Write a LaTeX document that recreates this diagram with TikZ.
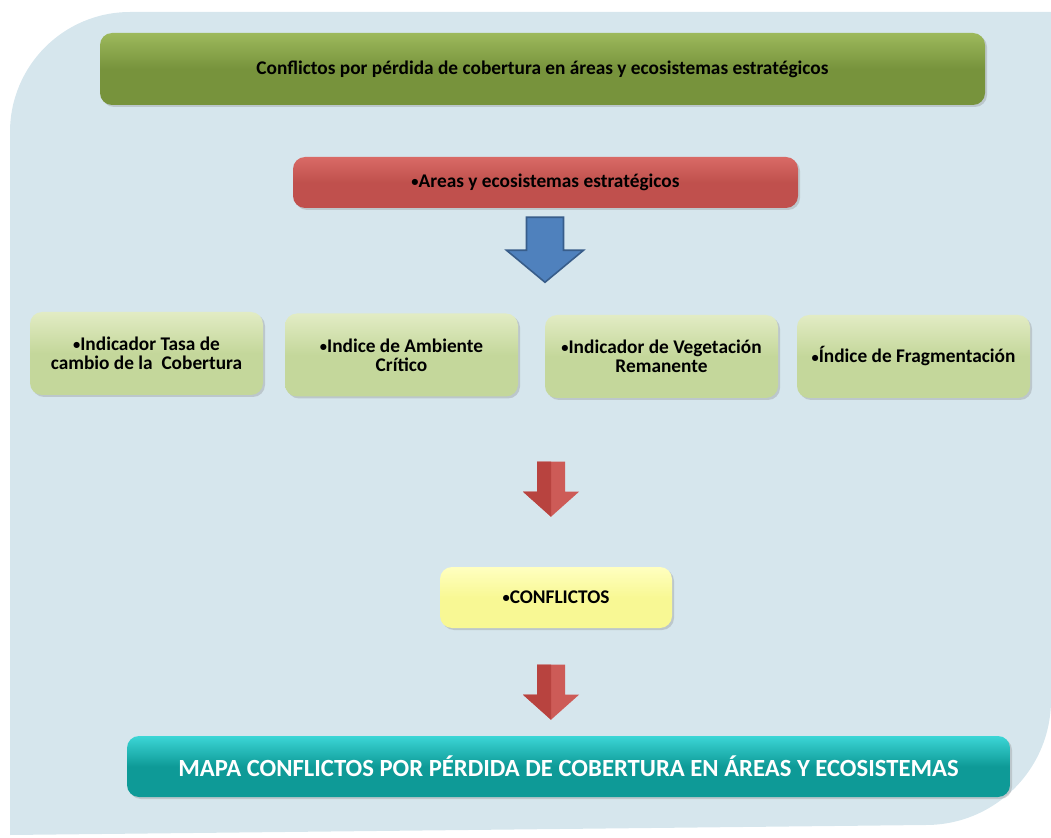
\documentclass[tikz,border=0pt]{standalone}
\usepackage{fontspec}
\setmainfont{Carlito}
\usetikzlibrary{shadows}
\newcommand\dotmark{\raisebox{0.1ex}{\scalebox{0.75}{•}}}

\begin{document}
\begin{tikzpicture}[x=0.75pt,y=-0.75pt]
\definecolor{PanelBlue}{HTML}{D6E6ED};
\definecolor{OliveTop}{HTML}{9DB95C};
\definecolor{Olive}{HTML}{77933C};
\definecolor{RedTop}{HTML}{D96A66};
\definecolor{RedBox}{HTML}{C0504D};
\definecolor{LeafTop}{HTML}{E2ECC4};
\definecolor{Leaf}{HTML}{C4D79B};
\definecolor{LemonTop}{HTML}{FFFFC0};
\definecolor{Lemon}{HTML}{F8F894};
\definecolor{TealTop}{HTML}{3CD6D6};
\definecolor{Teal}{HTML}{0E9A97};
\definecolor{ArrowBlue}{HTML}{4F81BD};
\definecolor{ArrowBlueEdge}{HTML}{385D8A};
\definecolor{ArrowRedL}{HTML}{B8433F};
\definecolor{ArrowRedR}{HTML}{CD5B57};

\tikzset{
  box/.style={rounded corners=9pt, inner sep=2pt, align=center,
    font=\bfseries\fontsize{14.5}{14.5}\selectfont,
    drop shadow={opacity=0.3, shadow xshift=1.5pt, shadow yshift=-1.5pt}},
  title/.style={box, top color=OliveTop, bottom color=Olive, middle color=Olive,
    minimum width=663.75pt, minimum height=54pt},
  source/.style={box, top color=RedTop, bottom color=RedBox, middle color=RedBox,
    minimum width=378.75pt, minimum height=38.25pt},
  indicator/.style={box, top color=LeafTop, bottom color=Leaf, middle color=Leaf,
    minimum width=174.75pt, minimum height=62.25pt},
  conflict/.style={box, top color=LemonTop, bottom color=Lemon, middle color=Lemon,
    minimum width=174pt, minimum height=45.75pt},
  result/.style={box, top color=TealTop, bottom color=Teal, middle color=Teal,
    minimum width=662.25pt, minimum height=45.75pt, text=white,
    font=\bfseries\fontsize{18.5}{20}\selectfont},
}

\useasboundingbox (0,0) rectangle (1051,838);

% panel
\fill[PanelBlue] (10,835) -- (10,132) arc[start angle=180, end angle=270, radius=120]
  -- (1051,12) -- (1051,700) arc[start angle=0, end angle=90, radius=125] -- cycle;

% boxes
\node[title] (cobertura) at (542.5,69) {Conflictos por pérdida de cobertura en áreas y ecosistemas estratégicos};
\node[source] (areas) at (545.5,182.5) {\dotmark Areas y ecosistemas estratégicos};

\node[indicator] (tasa) at (146.5,353.5) {\dotmark Indicador Tasa de\\cambio de la \ Cobertura};
\node[indicator] (ambiente) at (401.5,355) {\dotmark Indice de Ambiente\\Crítico};
\node[indicator] (vegetacion) at (661.5,356.5) {\dotmark Indicador de Vegetación\\Remanente};
\node[indicator] (fragmentacion) at (913.5,356.5) {\dotmark Índice de Fragmentación};

\node[conflict] (conflictos) at (556,597.5) {\dotmark CONFLICTOS};
\node[result] (mapa) at (568.5,766.5) {MAPA CONFLICTOS POR PÉRDIDA DE COBERTURA EN ÁREAS Y ECOSISTEMAS};

% blue arrow
\begin{scope}[shift={(areas.south)}]
\filldraw[fill=ArrowBlue, draw=ArrowBlueEdge, line width=1.2pt, line join=miter]
  (-19,9) -- (18,9) -- (18,42) -- (38,42) -- (-0.5,74) -- (-39,42) -- (-19,42) -- cycle;
\end{scope}

% red arrows
\foreach \dy in {-105,98} {
\begin{scope}[shift={(conflictos.north)}, yshift=\dy*-0.75pt]
\fill[ArrowRedR] (-19,0) -- (9,0) -- (9,30) -- (23,30) -- (-5,55) -- (-33,30) -- (-19,30) -- cycle;
\fill[ArrowRedL] (-19,0) -- (-5,0) -- (-5,55) -- (-33,30) -- (-19,30) -- cycle;
\end{scope}
}
\end{tikzpicture}
\end{document}
